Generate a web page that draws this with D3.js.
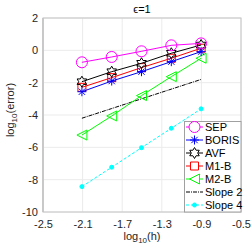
<!DOCTYPE html>
<html lang="en">
<head>
    <meta charset="UTF-8">
    <title>Error vs h</title>
    <script src="https://d3js.org/d3.v7.min.js"></script>
    <style>
        body { margin: 0; background: #fff; }
        svg { display: block; font-family: "Liberation Sans", Arial, sans-serif; }
    </style>
</head>
<body>
<svg width="251" height="251"></svg>
<script>
    // data
    var logH = [-2.107, -1.806, -1.505, -1.204, -0.903];
    var sep = [-0.74, -0.41, -0.06, 0.31, 0.43];
    var boris = [-2.56, -1.90, -1.32, -0.70, -0.08];
    var avf = [-1.94, -1.32, -0.80, -0.18, 0.33];
    var m1b = [-2.29, -1.69, -1.07, -0.49, 0.13];
    var m2b = [-5.24, -4.06, -2.80, -1.63, -0.49];
    var slope2 = [-4.2, -3.6, -3.0, -2.4, -1.8];
    var slope4 = [-8.43, -7.23, -6.02, -4.82, -3.62];
    var xTicks = [-2.5, -2.1, -1.7, -1.3, -0.9, -0.5];
    var yTicks = [-10, -8, -6, -4, -2, 0, 2];

    // plot box (window.top is reserved, so prefix these)
    var pLeft = 43, pRight = 241, pTop = 18, pBottom = 212;

    var x = d3.scaleLinear().domain([-2.5, -0.5]).range([pLeft, pRight]);
    var y = d3.scaleLinear().domain([-10, 2]).range([pBottom, pTop]);

    var svg = d3.select("svg");

    // grid
    svg.append("g").selectAll("line").data(xTicks).enter().append("line")
        .attr("x1", d => x(d)).attr("x2", d => x(d))
        .attr("y1", pTop).attr("y2", pBottom)
        .attr("stroke", "#ebebeb");
    svg.append("g").selectAll("line").data(yTicks).enter().append("line")
        .attr("x1", pLeft).attr("x2", pRight)
        .attr("y1", d => y(d)).attr("y2", d => y(d))
        .attr("stroke", "#ebebeb");

    // axes
    var xAxis = d3.axisBottom(x).tickValues(xTicks).tickSize(0).tickPadding(8)
        .tickFormat(d3.format(".1f"));
    var yAxis = d3.axisLeft(y).tickValues(yTicks).tickSize(0).tickPadding(5)
        .tickFormat(d => d);

    var gx = svg.append("g").attr("transform", "translate(0," + pBottom + ")").call(xAxis);
    var gy = svg.append("g").attr("transform", "translate(" + pLeft + ",0)").call(yAxis);
    [gx, gy].forEach(function(g) {
        g.select(".domain").remove();
        g.selectAll("text").attr("font-size", 11).attr("fill", "#262626")
            .attr("font-family", "Liberation Sans, Arial, sans-serif");
    });
    gx.selectAll("text").text(d => d3.format(".1f")(d).replace("\u2212", "-"));
    gy.selectAll("text").text(d => String(d));

    // box
    svg.append("rect")
        .attr("x", pLeft).attr("y", pTop)
        .attr("width", pRight - pLeft).attr("height", pBottom - pTop)
        .attr("fill", "none").attr("stroke", "#c4c4c4").attr("stroke-width", 1);
    svg.append("line").attr("x1", pLeft).attr("x2", pLeft).attr("y1", pTop).attr("y2", pBottom)
        .attr("stroke", "#c4c4c4").attr("stroke-width", 1.6);

    // marker shapes
    function asterisk(r) {
        var p = "";
        for (var i = 0; i < 4; i++) {
            var a = i * Math.PI / 4;
            var dx = r * Math.cos(a), dy = r * Math.sin(a);
            p += "M" + (-dx) + "," + (-dy) + "L" + dx + "," + dy;
        }
        return p;
    }
    function hexagram(r) {
        var pts = [];
        for (var i = 0; i < 12; i++) {
            var a = -Math.PI / 2 + i * Math.PI / 6;
            var rr = i % 2 === 0 ? r : r * 0.58;
            pts.push([rr * Math.cos(a), rr * Math.sin(a)]);
        }
        return "M" + pts.join("L") + "Z";
    }
    function triLeft(r) {
        return "M" + (-r) + ",0L" + (r) + "," + (-r) + "L" + r + "," + r + "Z";
    }
    function square(r) {
        return "M" + (-r) + "," + (-r) + "h" + (2 * r) + "v" + (2 * r) + "h" + (-2 * r) + "Z";
    }
    function circle(r) {
        return d3.symbol().type(d3.symbolCircle).size(Math.PI * r * r)();
    }

    var series = [
        { name: "SEP", values: sep, color: "#ff00ff", marker: () => circle(5.5), fill: "none", dash: null },
        { name: "BORIS", values: boris, color: "#0000ff", marker: () => asterisk(4.5), fill: "none", dash: null },
        { name: "AVF", values: avf, color: "#000000", marker: () => hexagram(5.5), fill: "none", dash: null },
        { name: "M1-B", values: m1b, color: "#ff0000", marker: () => square(4), fill: "none", dash: null },
        { name: "M2-B", values: m2b, color: "#00ff00", marker: () => triLeft(5), fill: "none", dash: null },
        { name: "Slope 2", values: slope2, color: "#000000", marker: null, fill: "none", dash: "4,1,1,1" },
        { name: "Slope 4", values: slope4, color: "#00ffff", marker: () => circle(2), fill: "#00ffff", dash: "3,2" }
    ];

    var line = d3.line().x(d => x(d[0])).y(d => y(d[1]));

    // draw last series first so SEP ends up on top
    series.slice().reverse().forEach(function(s) {
        var pts = logH.map((h, i) => [h, s.values[i]]);
        svg.append("path").datum(pts)
            .attr("d", line)
            .attr("fill", "none")
            .attr("stroke", s.color)
            .attr("stroke-width", 1)
            .attr("stroke-dasharray", s.dash);
        if (s.marker) {
            svg.append("g").selectAll("path").data(pts).enter().append("path")
                .attr("transform", d => "translate(" + x(d[0]) + "," + y(d[1]) + ")")
                .attr("d", s.marker())
                .attr("fill", s.fill)
                .attr("stroke", s.color)
                .attr("stroke-width", 1);
        }
    });

    // legend
    var lg = svg.append("g");
    lg.append("rect")
        .attr("x", 184.5).attr("y", 121.5)
        .attr("width", pRight - 184.5).attr("height", pBottom - 121.5)
        .attr("fill", "#fff").attr("stroke", "#a0a0a0").attr("stroke-width", 1);
    series.forEach(function(s, i) {
        var ly = 127 + i * 13;
        lg.append("line")
            .attr("x1", 186).attr("x2", 203).attr("y1", ly).attr("y2", ly)
            .attr("stroke", s.color).attr("stroke-width", 1)
            .attr("stroke-dasharray", s.dash);
        if (s.marker) {
            lg.append("path")
                .attr("transform", "translate(194.5," + ly + ")")
                .attr("d", s.marker())
                .attr("fill", s.fill === "none" ? "#fff" : s.fill)
                .attr("stroke", s.color);
        }
        lg.append("text")
            .attr("x", 205).attr("y", ly + 4)
            .attr("font-size", 11).attr("fill", "#000")
            .text(s.name);
    });

    // title and labels
    svg.append("text")
        .attr("x", (pLeft + pRight) / 2).attr("y", 13)
        .attr("text-anchor", "middle").attr("font-size", 11).attr("fill", "#000")
        .text("\u03F5=1");

    var xl = svg.append("text")
        .attr("x", (pLeft + pRight) / 2).attr("y", 240)
        .attr("text-anchor", "middle").attr("font-size", 11).attr("fill", "#262626");
    xl.append("tspan").text("log");
    xl.append("tspan").attr("font-size", 8).attr("dy", 3).text("10");
    xl.append("tspan").attr("dy", -3).text("(h)");

    var yl = svg.append("text")
        .attr("transform", "translate(14,110) rotate(-90)")
        .attr("text-anchor", "middle").attr("font-size", 11).attr("fill", "#262626");
    yl.append("tspan").text("log");
    yl.append("tspan").attr("font-size", 8).attr("dy", 3).text("10");
    yl.append("tspan").attr("dy", -3).text("(error)");
</script>
</body>
</html>
